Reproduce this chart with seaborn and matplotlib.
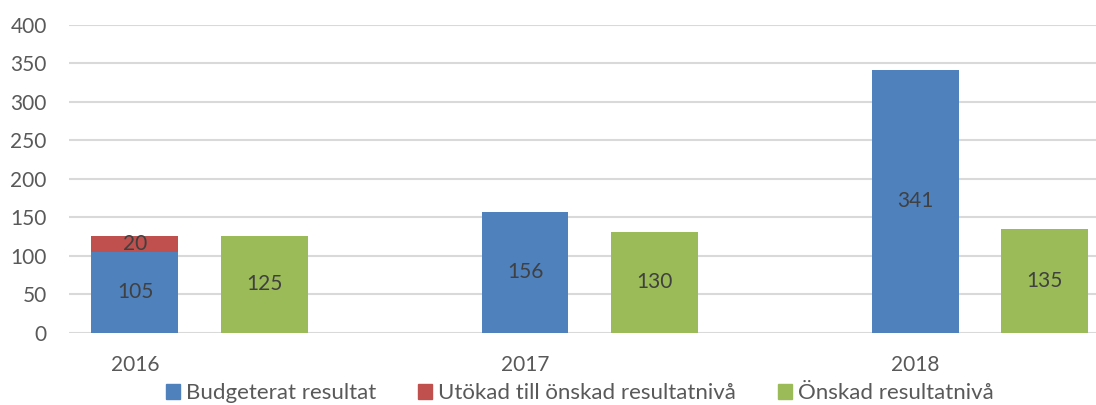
import pandas as pd
import numpy as np
import matplotlib
matplotlib.use("Agg")
import matplotlib.pyplot as plt
from matplotlib.patches import Patch
import seaborn as sns

# data
years = ["2016", "2017", "2018"]
budget = [105, 156, 341]
extra = [20, 0, 0]
target = [125, 130, 135]

series_names = ["Budgeterat resultat", "Utökad till önskad resultatnivå", "Önskad resultatnivå"]
colors = {"Budgeterat resultat": "#4f81bd",
          "Utökad till önskad resultatnivå": "#c0504d",
          "Önskad resultatnivå": "#9bbb59"}

green_offset = 0.331
bar_w = 0.223

sns.set_theme(style="white")
plt.rcParams["font.family"] = ["Lato", "DejaVu Sans"]
txt = "#595959"

idx = np.arange(len(years))
totals = [b + e for b, e in zip(budget, extra)]
# red drawn as full stack height, blue drawn over it
df = pd.concat([
    pd.DataFrame({"pos": idx, "value": totals, "serie": series_names[1]}),
    pd.DataFrame({"pos": idx, "value": budget, "serie": series_names[0]}),
    pd.DataFrame({"pos": idx + green_offset, "value": target, "serie": series_names[2]}),
])

fig = plt.figure(figsize=(10.96, 4.05), dpi=100)
ax = fig.add_axes([0.063, 0.179, 0.937, 0.7605])

sns.barplot(data=df, x="pos", y="value", hue="serie", hue_order=series_names[1:2] + series_names[0:1] + series_names[2:],
            palette=colors, saturation=1, native_scale=True, dodge=False, width=bar_w / green_offset,
            legend=False, linewidth=0, ax=ax)

# data labels
for i in idx:
    ax.text(i, budget[i] / 2, str(budget[i]), ha="center", va="center", fontsize=15, color="#404040")
    if extra[i]:
        ax.text(i, budget[i] + extra[i] / 2, str(extra[i]), ha="center", va="center", fontsize=15, color="#404040")
    ax.text(i + green_offset, target[i] / 2, str(target[i]), ha="center", va="center", fontsize=15, color="#404040")

ax.set_ylim(0, 400)
ax.set_yticks(range(0, 401, 50))
ax.set_xlim(-0.169, 2.464)
ax.set_xticks(idx)
ax.set_xticklabels(years)
ax.set_xlabel("")
ax.set_ylabel("")
ax.yaxis.grid(True, color="#d9d9d9", linewidth=1.5)
ax.set_axisbelow(True)
for s in ax.spines.values():
    s.set_visible(False)
ax.tick_params(axis="both", length=0, labelsize=15, labelcolor=txt)
ax.tick_params(axis="x", pad=16)
ax.tick_params(axis="y", pad=16)

handles = [Patch(color=colors[n]) for n in series_names]
fig.legend(handles, series_names, loc="lower center", bbox_to_anchor=(0.529, -0.045), ncol=3,
           frameon=False, fontsize=16, labelcolor=txt, handlelength=0.63, handleheight=0.63,
           handletextpad=0.27, columnspacing=1.9)

fig.savefig("out.png", dpi=100)
